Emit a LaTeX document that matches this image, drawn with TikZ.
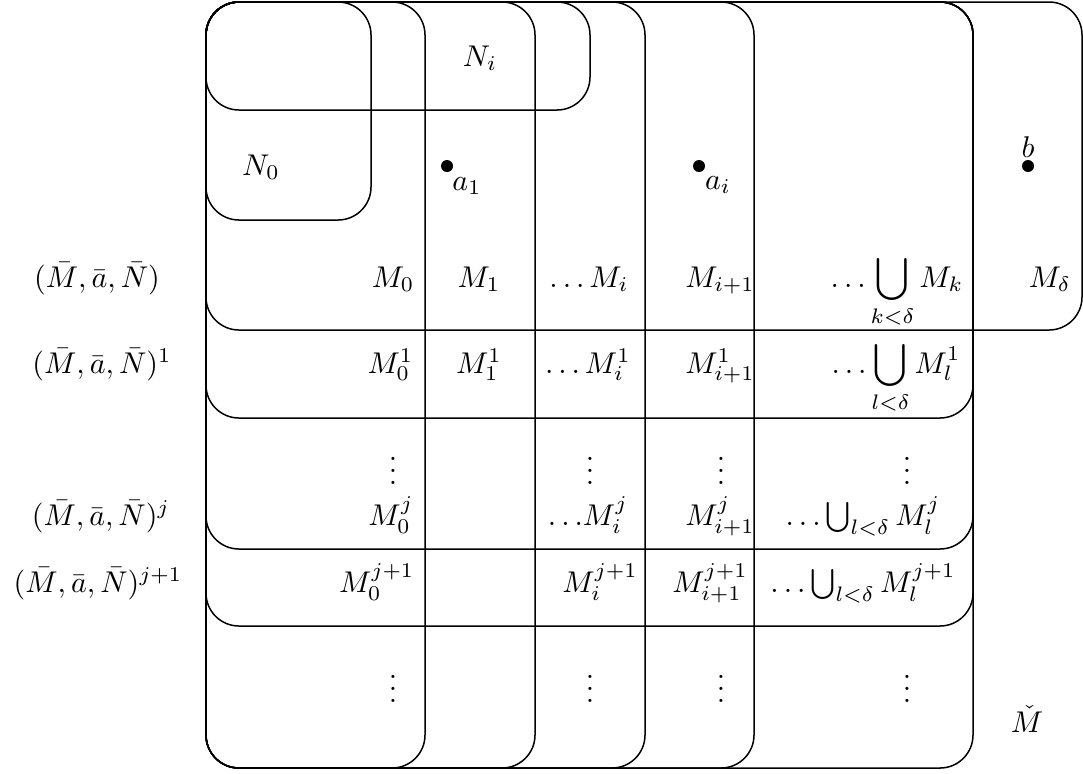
\documentclass[tikz,border=0pt]{standalone}
\usepackage{amsmath}
\begin{document}
\begin{tikzpicture}[x=0.3333pt,y=-0.3333pt,
  box/.style={draw, rounded corners=11pt, line width=0.5pt},
  lab/.style={anchor=base, inner sep=0pt},
  labr/.style={anchor=base east, inner sep=0pt},
  pt/.style={circle, fill, inner sep=0pt, minimum size=4pt}]
\useasboundingbox (0,0) rectangle (1083,773);
% column boxes
\foreach \r in {425,535,645,754,973} \draw[box] (206,2) rectangle (\r,768);
% row boxes
\draw[box] (206,2) rectangle (1082,330);
\foreach \b in {418,549,626} \draw[box] (206,2) rectangle (973,\b);
% N boxes
\draw[box] (206,2) rectangle (371,220);
\draw[box] (206,2) rectangle (590,110);
% N labels
\node (N0) at (261,167) {$N_0$};
\node (Ni) at (480,58) {$N_i$};
% points
\node[pt] (a1) at (447,166) {};
\node (la1) at (467,186) {$a_1$};
\node[pt] (ai) at (699,166) {};
\node (lai) at (718,185) {$a_i$};
\node[pt] (b) at (1028,166) {};
\node (lb) at (1028,147) {$b$};
% left labels
\node[lab] (L0) at (97,287) {$(\bar M,\bar a,\bar N)$};
\node[lab] (L1) at (102,373) {$(\bar M,\bar a,\bar N)^1$};
\node[lab] (Lj) at (101,525) {$(\bar M,\bar a,\bar N)^j$};
\node[lab] (Lj1) at (98,592) {$(\bar M,\bar a,\bar N)^{j+1}$};
% row 0
\node[labr] (r0c0) at (415,287) {$M_0$};
\node[lab] (r0c1) at (479,287) {$M_1$};
\node[lab] (r0c2) at (589,287) {$\ldots M_i$};
\node[lab] (r0c3) at (720,287) {$M_{i+1}$};
\node[lab] (r0c4) at (897,287) {$\displaystyle\ldots\bigcup_{k<\delta}M_k$};
\node[lab] (r0c5) at (1050,287) {$M_\delta$};
% row 1
\node[labr] (r1c0) at (414,373) {$M_0^1$};
\node[lab] (r1c1) at (479,373) {$M_1^1$};
\node[lab] (r1c2) at (588,373) {$\ldots M_i^1$};
\node[lab] (r1c3) at (720,373) {$M_{i+1}^1$};
\node[lab] (r1c4) at (896,373) {$\displaystyle\ldots\bigcup_{l<\delta}M_l^1$};
% vdots
\foreach \x/\n in {393/a,590/b,721/c,907/d} {
  \node (vu\n) at (\x,462) {$\vdots$};
  \node (vl\n) at (\x,680) {$\vdots$};
}
% row j
\node[labr] (rjc0) at (414,525) {$M_0^j$};
\node[lab] (rjc2) at (588,525) {$\ldots\!M_i^j$};
\node[lab] (rjc3) at (720,525) {$M_{i+1}^j$};
\node[lab] (rjc4) at (863,525) {$\ldots\bigcup_{l<\delta}M_l^j$};
% row j+1
\node[labr] (rkc0) at (415,592) {$M_0^{j+1}$};
\node[lab] (rkc2) at (600,592) {$M_i^{j+1}$};
\node[lab] (rkc3) at (710,592) {$M_{i+1}^{j+1}$};
\node[lab] (rkc4) at (863,592) {$\ldots\bigcup_{l<\delta}M_l^{j+1}$};
% M check
\node (Mc) at (1027,719) {$\check M$};
\end{tikzpicture}
\end{document}
